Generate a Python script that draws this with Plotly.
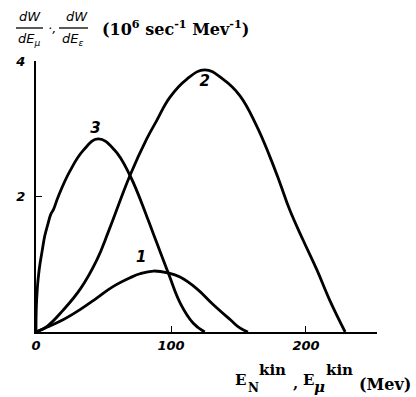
import plotly.graph_objects as go

# Curve 1
x1 = [0, 8, 20, 32.6, 45, 57, 69.6, 77, 87, 98, 106.7, 119, 131, 144, 151, 157]
y1 = [0, 0.07, 0.18, 0.33, 0.5, 0.67, 0.8, 0.86, 0.90, 0.87, 0.81, 0.64, 0.41, 0.18, 0.06, 0]
# Curve 2
x2 = [0, 8, 20, 33, 45, 54, 69.6, 82, 89.4, 99, 111.6, 125, 138.7, 151, 163.5, 173, 180.7, 188, 198, 208, 217.8, 229]
y2 = [0, 0.08, 0.32, 0.64, 1.06, 1.5, 2.31, 2.85, 3.12, 3.46, 3.73, 3.87, 3.73, 3.49, 3.04, 2.6, 2.2, 1.8, 1.35, 0.92, 0.46, 0]
# Curve 3
x3 = [0, 0.2, 1, 2, 3, 4.5, 6.5, 8.5, 11, 13, 16.5, 25, 35, 46, 58, 69.6, 82, 86, 98, 107, 116.5, 125]
y3 = [0, 0.34, 0.65, 0.86, 1.01, 1.19, 1.42, 1.57, 1.74, 1.81, 2.0, 2.37, 2.68, 2.85, 2.69, 2.31, 1.71, 1.5, 0.87, 0.42, 0.13, 0]

curve_labels = ["1", "2", "3"]
label_x = [78, 125, 44]
label_y = [1.09, 3.68, 2.99]

x_ticks = [0, 100, 200]
y_ticks = [2, 4]

W, H = 416, 397
L, R, T, B = 36, 39, 61, 65
PW, PH = W - L - R, H - T - B

def px(x):
    return (x - L) / PW

def py(y):
    return (H - B - y) / PH

fig = go.Figure()
for xs, ys in [(x1, y1), (x2, y2), (x3, y3)]:
    fig.add_trace(go.Scatter(x=xs, y=ys, mode="lines",
                             line=dict(color="black", width=2.8, shape="spline", smoothing=1.2),
                             showlegend=False, hoverinfo="skip"))

fig.add_trace(go.Scatter(x=label_x, y=label_y, mode="text", text=curve_labels,
                         textfont=dict(family="DejaVu Sans", size=15, color="black", style="italic", weight="bold"),
                         showlegend=False, hoverinfo="skip"))

ann = []
def text(xp, yp, s, size=13, family="DejaVu Sans", style="italic", xanchor="center", weight="normal"):
    ann.append(dict(x=px(xp), y=py(yp), xref="paper", yref="paper", text=s, showarrow=False,
                    xanchor=xanchor, yanchor="middle",
                    font=dict(family=family, size=size, color="black", style=style, weight=weight)))

# title fractions
text(30, 17, "dW", size=13)
text(29, 40, "dE<sub>μ</sub>", size=13)
text(52, 28, "·,", size=13)
text(77, 17, "dW", size=13)
text(72, 40, "dE<sub>ε</sub>", size=13)
text(100, 28, "(10<sup>6</sup> sec<sup>-1</sup> Mev<sup>-1</sup>)", size=16, family="DejaVu Serif",
     style="normal", xanchor="left", weight="bold")

# x axis label
SERIF = "DejaVu Serif"
text(233, 380, "E", size=15, family=SERIF, style="normal", xanchor="left", weight="bold")
text(246, 388, "N", size=12, family=SERIF, style="normal", xanchor="left", weight="bold")
text(257, 370, "kin", size=15, family=SERIF, style="normal", xanchor="left", weight="bold")
text(291, 383, ",", size=15, family=SERIF, style="normal", xanchor="left", weight="bold")
text(301, 380, "E", size=15, family=SERIF, style="normal", xanchor="left", weight="bold")
text(312, 387, "μ", size=15, family=SERIF, style="italic", xanchor="left", weight="bold")
text(324, 370, "kin", size=15, family=SERIF, style="normal", xanchor="left", weight="bold")
text(357, 384, "(Mev)", size=16, family=SERIF, style="normal", xanchor="left", weight="bold")

shapes = [
    dict(type="line", xref="paper", yref="paper", x0=px(16), x1=px(43), y0=py(28), y1=py(28),
         line=dict(color="black", width=1.3)),
    dict(type="line", xref="paper", yref="paper", x0=px(59), x1=px(88), y0=py(28), y1=py(28),
         line=dict(color="black", width=1.3)),
]

tickfont = dict(family="DejaVu Sans", size=13, color="black", style="italic", weight="bold")
fig.update_layout(
    width=W, height=H, margin=dict(l=L, r=R, t=T, b=B),
    paper_bgcolor="white", plot_bgcolor="white",
    annotations=ann, shapes=shapes,
    xaxis=dict(range=[0, 252.6], tickvals=x_ticks, ticktext=[str(v) for v in x_ticks], ticks="inside", ticklen=6,
               tickwidth=1.2, tickcolor="black", showline=True, linecolor="black", linewidth=2, showgrid=False,
               zeroline=False, tickfont=tickfont),
    yaxis=dict(range=[0, 4], tickvals=y_ticks, ticktext=[str(v) for v in y_ticks], ticks="inside", ticklen=6,
               tickwidth=1.2, tickcolor="black", showline=True, linecolor="black", linewidth=2, showgrid=False,
               zeroline=False, ticklabelstandoff=6, tickfont=tickfont),
)

fig.write_html("out.html")
